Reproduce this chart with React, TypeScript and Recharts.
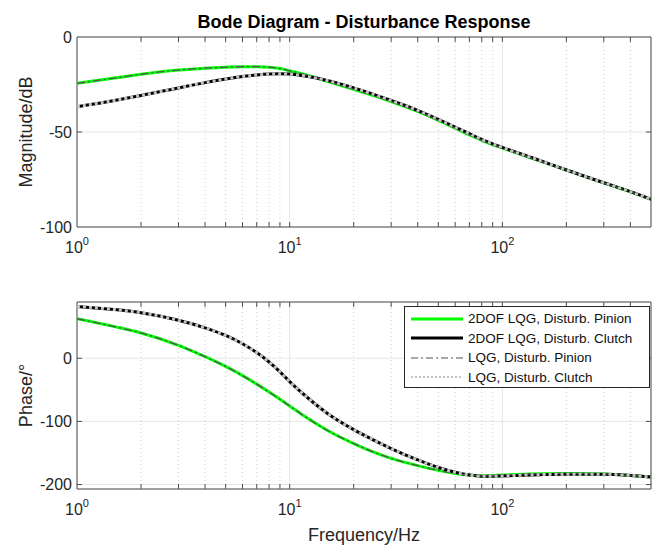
import React from 'react';
import {
  LineChart,
  Line,
  XAxis,
  YAxis,
  CartesianGrid,
  ReferenceLine,
  ReferenceArea,
  Legend,
} from 'recharts';

// frequency points (Hz)
const freqs = [1, 1.5, 2, 3, 4, 5, 6, 7, 8, 9, 10, 12, 15, 20, 25, 30, 40, 50, 60, 70, 80, 90, 100, 150, 200, 300, 400, 500];

// magnitude in dB
const magDofPinion = [-24.4, -21.6, -19.6, -17.4, -16.4, -15.9, -15.6, -15.6, -15.9, -16.6, -17.8, -20.0, -23.3, -27.6, -31.0, -34.0, -39.2, -43.9, -48.0, -51.5, -54.4, -56.6, -58.4, -65.2, -70.0, -76.8, -81.5, -85.4];
const magDofClutch = [-36.7, -33.4, -30.8, -26.8, -24.0, -22.1, -20.8, -20.0, -19.5, -19.3, -19.5, -20.7, -22.9, -26.8, -30.3, -33.4, -38.6, -43.4, -47.4, -50.9, -53.9, -56.2, -58.1, -65.0, -70.0, -76.7, -81.4, -85.4];
const magLqgPinion = [-24.4, -21.6, -19.6, -17.4, -16.4, -15.9, -15.6, -15.6, -15.9, -16.6, -17.8, -20.0, -23.3, -27.6, -31.0, -34.0, -39.2, -43.9, -48.0, -51.5, -54.4, -56.6, -58.4, -65.2, -70.0, -76.8, -81.5, -85.4];
const magLqgClutch = [-36.7, -33.4, -30.8, -26.8, -24.0, -22.1, -20.8, -20.0, -19.5, -19.3, -19.5, -20.7, -22.9, -26.8, -30.3, -33.4, -38.6, -43.4, -47.4, -50.9, -53.9, -56.2, -58.1, -65.0, -70.0, -76.7, -81.4, -85.4];

// phase in degrees
const phaseDofPinion = [62.5, 50, 40, 20.5, 2.5, -13, -27.5, -41, -53.5, -65, -75.5, -94, -114, -135, -149, -158.5, -170, -177.5, -182.3, -185, -186.3, -186, -185, -182.8, -182.3, -183.2, -185.5, -188];
const phaseDofClutch = [82, 77, 72, 60, 48, 36, 23, 9, -6, -21.5, -37, -61, -87, -113, -130, -143, -161, -173, -180.5, -185, -186.8, -187, -186.3, -184.3, -183.5, -183.7, -185.6, -188];
const phaseLqgPinion = [62.5, 50, 40, 20.5, 2.5, -13, -27.5, -41, -53.5, -65, -75.5, -94, -114, -135, -149, -158.5, -170, -177.5, -182.3, -185, -186.3, -186, -185, -182.8, -182.3, -183.2, -185.5, -188];
const phaseLqgClutch = [82, 77, 72, 60, 48, 36, 23, 9, -6, -21.5, -37, -61, -87, -113, -130, -143, -161, -173, -180.5, -185, -186.8, -187, -186.3, -184.3, -183.5, -183.7, -185.6, -188];

// axes
const decadeTicks = [1, 10, 100];
const minorTicks = [2, 3, 4, 5, 6, 7, 8, 9, 20, 30, 40, 50, 60, 70, 80, 90, 200, 300, 400];
const magTicks = [-100, -50, 0];
const phaseTicks = [-200, -100, 0];
const xDomain = [1, 500];
const magDomain = [-100, 0];
const phaseDomain = [-207, 89];

const series = [
  { key: 'dofPinion', name: '2DOF LQG, Disturb. Pinion', stroke: '#00ff00', width: 3, dash: undefined, legendStroke: '#00ff00' },
  { key: 'dofClutch', name: '2DOF LQG, Disturb. Clutch', stroke: '#000000', width: 3, dash: undefined, legendStroke: '#000000' },
  { key: 'lqgPinion', name: 'LQG, Disturb. Pinion', stroke: '#555555', width: 1.3, dash: '8 3 2 3', legendStroke: '#8a8a8a' },
  { key: 'lqgClutch', name: 'LQG, Disturb. Clutch', stroke: '#c4c4c4', width: 3, dash: '3 3', legendStroke: '#b0b0b0' },
];

const magRows = freqs.map((f, i) => ({
  f,
  dofPinion: magDofPinion[i],
  dofClutch: magDofClutch[i],
  lqgPinion: magLqgPinion[i],
  lqgClutch: magLqgClutch[i],
}));

const phaseRows = freqs.map((f, i) => ({
  f,
  dofPinion: phaseDofPinion[i],
  dofClutch: phaseDofClutch[i],
  lqgPinion: phaseLqgPinion[i],
  lqgClutch: phaseLqgClutch[i],
}));

const FONT = '"Liberation Sans", Arial, Helvetica, sans-serif';
const INK = '#262626';
const BOX = '#4d4d4d';

const DecadeTick = (props: any) => {
  const { x, y, payload } = props;
  const exp = Math.round(Math.log10(payload.value));
  return (
    <text x={x} y={y + 26} textAnchor="middle" fill={INK} fontSize={16} fontFamily={FONT}>
      10
      <tspan dy={-8} fontSize={11}>
        {exp}
      </tspan>
    </text>
  );
};

const yTitle = (text: string) => (props: any) => {
  const vb = props.viewBox || {};
  const cy = (vb.y ?? 0) + (vb.height ?? 0) / 2;
  return (
    <text
      x={32}
      y={cy}
      transform={`rotate(-90 32 ${cy})`}
      textAnchor="middle"
      fill={INK}
      fontSize={18}
      fontFamily={FONT}
    >
      {text}
    </text>
  );
};

const xTitle = (props: any) => {
  const vb = props.viewBox || {};
  return (
    <text x={vb.x + vb.width / 2} y={vb.y + 52} textAnchor="middle" fill={INK} fontSize={18} fontFamily={FONT}>
      Frequency/Hz
    </text>
  );
};

// inward MATLAB style tick marks, in data units
const boxTicks = (yDom: number[], yTicks: number[], tickY: number, id: string) => {
  const fx = 1.055;
  const marks: React.ReactNode[] = [];
  [...decadeTicks.slice(1), ...minorTicks].forEach((v) => {
    marks.push(
      <ReferenceLine key={`${id}b${v}`} segment={[{ x: v, y: yDom[0] }, { x: v, y: yDom[0] + tickY }]} stroke={BOX} />,
      <ReferenceLine key={`${id}t${v}`} segment={[{ x: v, y: yDom[1] }, { x: v, y: yDom[1] - tickY }]} stroke={BOX} />
    );
  });
  yTicks.forEach((v) => {
    if (v <= yDom[0] || v >= yDom[1]) return;
    marks.push(
      <ReferenceLine key={`${id}l${v}`} segment={[{ x: xDomain[0], y: v }, { x: xDomain[0] * fx, y: v }]} stroke={BOX} />,
      <ReferenceLine key={`${id}r${v}`} segment={[{ x: xDomain[1] / fx, y: v }, { x: xDomain[1], y: v }]} stroke={BOX} />
    );
  });
  return marks;
};

const minorGrid = (id: string) =>
  minorTicks.map((v) => (
    <ReferenceLine key={`${id}m${v}`} x={v} stroke="#cfcfcf" strokeDasharray="1 3" />
  ));

const renderLines = () =>
  series.map((s) => (
    <Line
      key={s.key}
      type="monotone"
      dataKey={s.key}
      name={s.name}
      stroke={s.stroke}
      strokeWidth={s.width}
      strokeDasharray={s.dash}
      dot={false}
      activeDot={false}
      isAnimationActive={false}
    />
  ));

const LegendBox = () => (
  <div
    style={{
      width: 246,
      height: 82,
      boxSizing: 'border-box',
      border: `1px solid ${INK}`,
      background: '#fff',
      padding: '2px 6px',
      fontFamily: FONT,
    }}
  >
    {series.map((s) => (
      <div key={s.key} style={{ display: 'flex', alignItems: 'center', height: 19.5 }}>
        <svg width={52} height={8}>
          <line x1={0} y1={4} x2={52} y2={4} stroke={s.legendStroke} strokeWidth={s.dash ? 1.5 : 3} strokeDasharray={s.dash ? (s.key === 'lqgClutch' ? '2 2' : '7 3 2 3') : undefined} />
        </svg>
        <span style={{ marginLeft: 5, fontSize: 13.5, color: '#111', whiteSpace: 'nowrap' }}>{s.name}</span>
      </div>
    ))}
  </div>
);

const App = () => {
  return (
    <div style={{ position: 'absolute', left: 0, top: 0, width: 666, height: 546, background: '#fff' }}>
      <div
        style={{
          position: 'absolute',
          left: 77,
          top: 13,
          width: 574,
          textAlign: 'center',
          fontFamily: FONT,
          fontWeight: 'bold',
          fontSize: 18,
          lineHeight: '18px',
          color: '#000',
        }}
      >
        Bode Diagram - Disturbance Response
      </div>

      <div style={{ position: 'absolute', left: 0, top: 0 }}>
        <LineChart width={666} height={270} data={magRows} margin={{ top: 37, right: 15, bottom: 0, left: 0 }}>
          <CartesianGrid stroke="#e6e6e6" />
          {minorGrid('mg')}
          <XAxis
            dataKey="f"
            type="number"
            scale="log"
            domain={xDomain}
            ticks={decadeTicks}
            interval={0}
            allowDataOverflow
            axisLine={false}
            tickLine={false}
            tickSize={0}
            tickMargin={0}
            height={43}
            tick={<DecadeTick />}
          />
          <YAxis
            type="number"
            domain={magDomain}
            ticks={magTicks}
            interval={0}
            allowDataOverflow
            width={77}
            axisLine={false}
            tickLine={false}
            tickSize={5}
            tickMargin={0}
            tick={{ fill: INK, fontSize: 16, fontFamily: FONT }}
            label={yTitle('Magnitude/dB')}
          />
          {renderLines()}
          <ReferenceArea x1={xDomain[0]} x2={xDomain[1]} y1={magDomain[0]} y2={magDomain[1]} fill="none" stroke={BOX} />
          {boxTicks(magDomain, magTicks, 2.6, 'm')}
        </LineChart>
      </div>

      <div style={{ position: 'absolute', left: 0, top: 270 }}>
        <LineChart width={666} height={276} data={phaseRows} margin={{ top: 32, right: 15, bottom: 0, left: 0 }}>
          <CartesianGrid stroke="#e6e6e6" />
          {minorGrid('pg')}
          <XAxis
            dataKey="f"
            type="number"
            scale="log"
            domain={xDomain}
            ticks={decadeTicks}
            interval={0}
            allowDataOverflow
            axisLine={false}
            tickLine={false}
            tickSize={0}
            tickMargin={0}
            height={57}
            tick={<DecadeTick />}
            label={xTitle}
          />
          <YAxis
            type="number"
            domain={phaseDomain}
            ticks={phaseTicks}
            interval={0}
            allowDataOverflow
            width={77}
            axisLine={false}
            tickLine={false}
            tickSize={5}
            tickMargin={0}
            tick={{ fill: INK, fontSize: 16, fontFamily: FONT }}
            label={yTitle('Phase/°')}
          />
          {renderLines()}
          <ReferenceArea x1={xDomain[0]} x2={xDomain[1]} y1={phaseDomain[0]} y2={phaseDomain[1]} fill="none" stroke={BOX} />
          {boxTicks(phaseDomain, phaseTicks, 7.9, 'p')}
          <Legend
            layout="horizontal"
            verticalAlign="middle"
            align="center"
            content={<LegendBox />}
            wrapperStyle={{ left: 404, top: 36, width: 246, height: 82 }}
          />
        </LineChart>
      </div>
    </div>
  );
};

export default App;
